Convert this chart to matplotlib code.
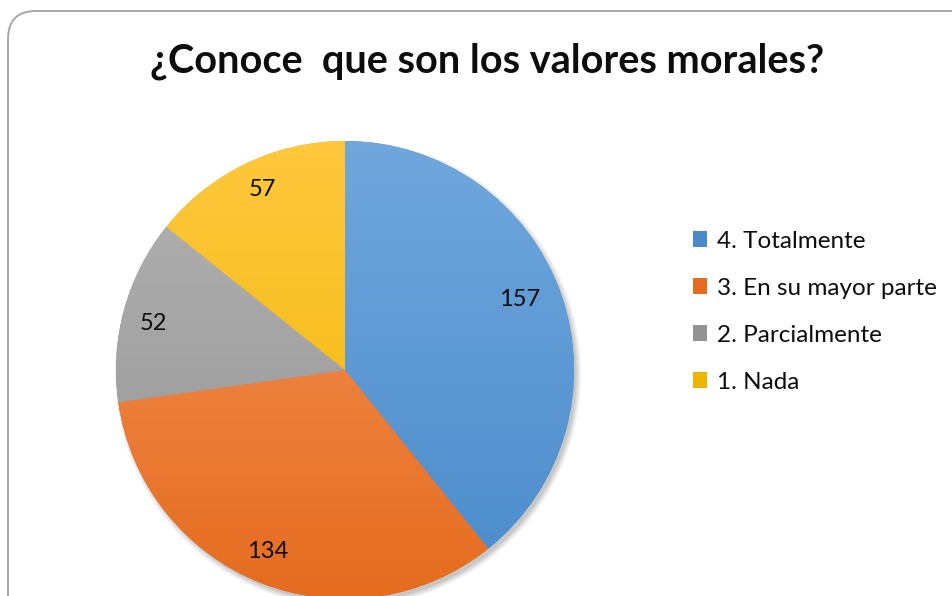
import matplotlib
matplotlib.use("Agg")
import matplotlib.pyplot as plt
import numpy as np
from matplotlib.patches import FancyBboxPatch, Patch, Circle
from matplotlib.colors import LinearSegmentedColormap

plt.rcParams['font.family'] = ['Lato', 'DejaVu Sans']

# data
categories = ['4. Totalmente', '3. En su mayor parte', '2. Parcialmente', '1. Nada']
values = [157, 134, 52, 57]
title = '¿Conoce  que son los valores morales?'

# slice colours (top / bottom of the gradient)
top_colors = ['#70A7DD', '#F4955B', '#B3B3B3', '#FFC83E']
bottom_colors = ['#4A8BCB', '#E56C1F', '#939393', '#EEB500']

W, H = 953, 596
fig = plt.figure(figsize=(W / 100, H / 100), dpi=100)
ax = fig.add_axes([0, 0, 1, 1])
ax.set_xlim(0, W)
ax.set_ylim(0, H)
ax.set_aspect('equal')
ax.axis('off')

# rounded frame
frame = FancyBboxPatch((8, -30), 980, 615, boxstyle='round,pad=0,rounding_size=28',
                       facecolor='white', edgecolor='#A6A6A6', linewidth=1.4, zorder=0)
ax.add_patch(frame)

cx, cy, r = 345, 226, 229

# soft shadow under the pie
for i, a in enumerate([0.05, 0.05, 0.06, 0.07]):
    ax.add_patch(Circle((cx + 3, cy - 4), r + 4 - i * 1.5, facecolor='black',
                        edgecolor='none', alpha=a, zorder=1))

wedges, _ = ax.pie(values, startangle=90, counterclock=False, center=(cx, cy),
                   radius=r, frame=True, wedgeprops=dict(linewidth=0))
ax.set_xlim(0, W)
ax.set_ylim(0, H)
ax.axis('off')

grad = np.linspace(0, 1, 256).reshape(-1, 1)
for w, c0, c1 in zip(wedges, top_colors, bottom_colors):
    w.set_facecolor(c1)
    w.set_zorder(2)
    cmap = LinearSegmentedColormap.from_list('g', [c1, c0])
    im = ax.imshow(grad, cmap=cmap, origin='lower', aspect='auto',
                   extent=[cx - r, cx + r, cy - r, cy + r], zorder=3)
    im.set_clip_path(w)

# value labels
label_pos = [(520, 300), (268, 552), (153, 323), (262, 190)]
for (x, y), v in zip(label_pos, values):
    ax.text(x, H - y, str(v), ha='center', va='center', fontsize=17, color='#0D0D0D', zorder=5)

ax.text(487, H - 61, title, ha='center', va='center', fontsize=28.5, fontweight='bold',
        color='#0D0D0D')

handles = [Patch(facecolor=c) for c in bottom_colors]
leg = ax.legend(handles, categories, loc='upper left', bbox_to_anchor=(683 / W, 1 - 221 / H),
                frameon=False, fontsize=17.5, handlelength=0.6, handleheight=0.6,
                handletextpad=0.4, labelspacing=1.07, borderaxespad=0)
for t in leg.get_texts():
    t.set_color('#0D0D0D')

fig.savefig('out.png', dpi=100)
